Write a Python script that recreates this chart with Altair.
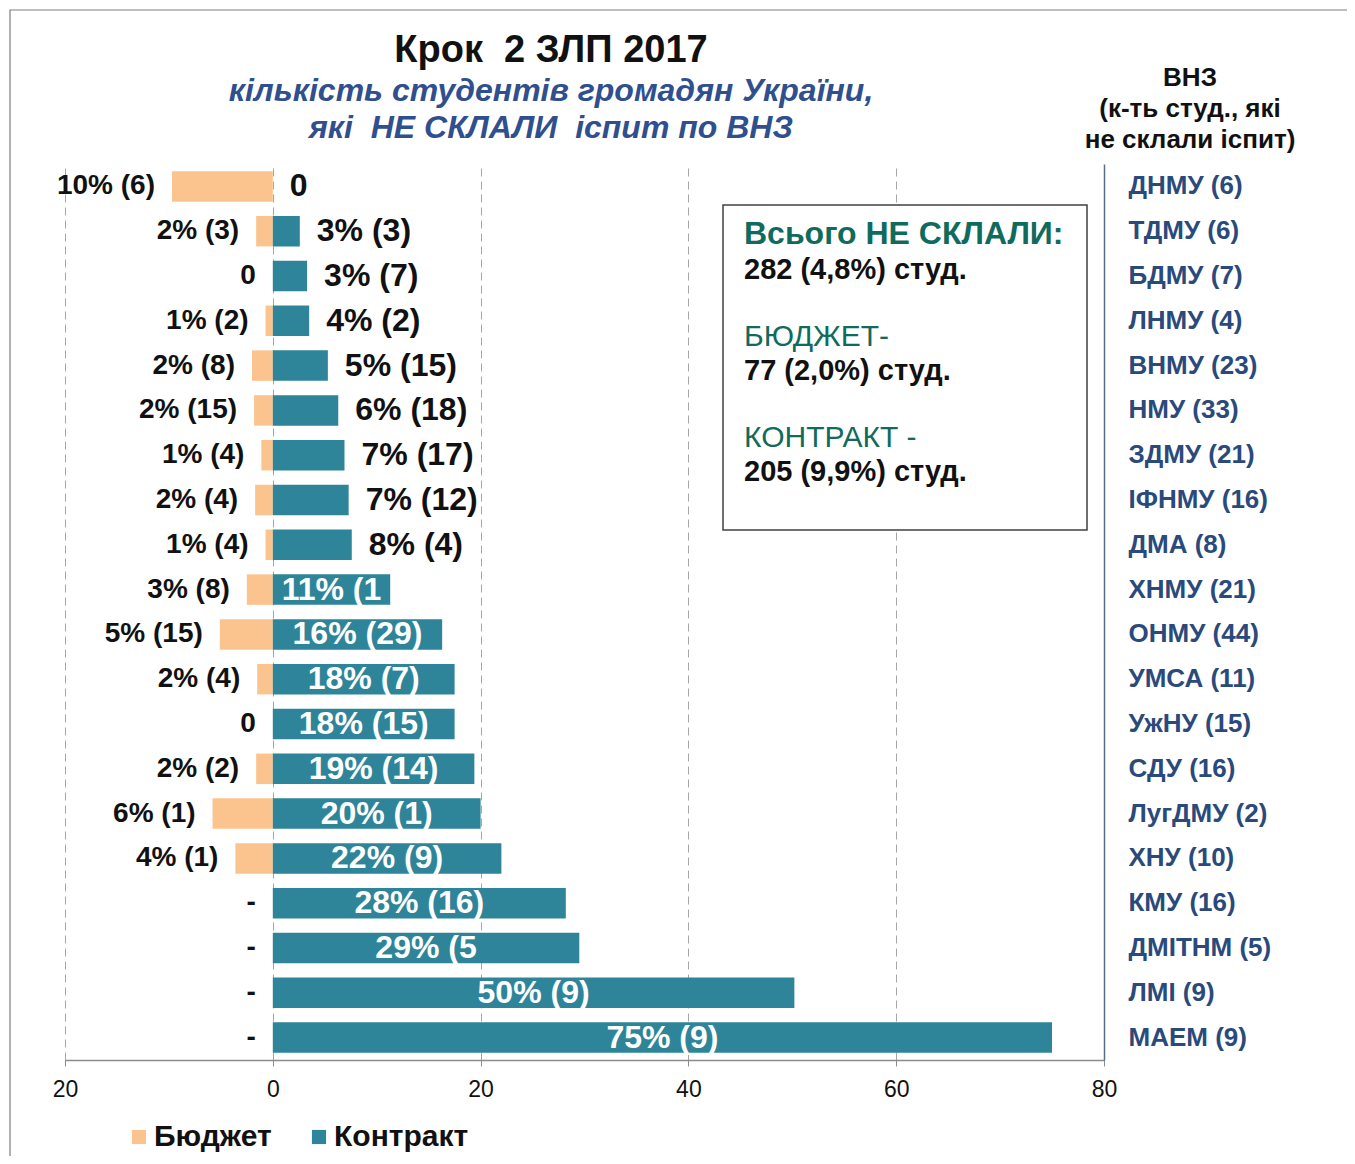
import altair as alt
import pandas as pd

names = ['ДНМУ (6)', 'ТДМУ (6)', 'БДМУ (7)', 'ЛНМУ (4)', 'ВНМУ (23)', 'НМУ (33)',
         'ЗДМУ (21)', 'ІФНМУ (16)', 'ДМА (8)', 'ХНМУ (21)', 'ОНМУ (44)', 'УМСА (11)',
         'УжНУ (15)', 'СДУ (16)', 'ЛугДМУ (2)', 'ХНУ (10)', 'КМУ (16)', 'ДМІТНМ (5)',
         'ЛМІ (9)', 'МАЕМ (9)']
budget_pct = [9.7, 1.6, 0, 0.7, 2.0, 1.8, 1.1, 1.7, 0.7, 2.5, 5.1, 1.5, 0, 1.6, 5.8, 3.6, 0, 0, 0, 0]
budget_labels = ['10% (6)', '2% (3)', '0', '1% (2)', '2% (8)', '2% (15)', '1% (4)', '2% (4)',
                 '1% (4)', '3% (8)', '5% (15)', '2% (4)', '0', '2% (2)', '6% (1)', '4% (1)',
                 '-', '-', '-', '-']
contract_pct = [0, 2.6, 3.3, 3.5, 5.3, 6.3, 6.9, 7.3, 7.6, 11.3, 16.3, 17.5, 17.5, 19.4,
                20.0, 22.0, 28.2, 29.5, 50.2, 75.0]
contract_labels = ['0', '3% (3)', '3% (7)', '4% (2)', '5% (15)', '6% (18)', '7% (17)', '7% (12)',
                   '8% (4)', '11% (1', '16% (29)', '18% (7)', '18% (15)', '19% (14)', '20% (1)',
                   '22% (9)', '28% (16)', '29% (5', '50% (9)', '75% (9)']
groups = ['Бюджет', 'Контракт']
x_ticks = [-20, 0, 20, 40, 60, 80]

title_text = 'Крок\u00a0\u00a02 ЗЛП 2017'
subtitle_lines = ['кількість студентів громадян України,',
                  'які\u00a0\u00a0НЕ СКЛАЛИ\u00a0\u00a0іспит по ВНЗ']
header_lines = ['ВНЗ', '(к-ть студ., які', 'не склали іспит)']
box_heads = ['Всього НЕ СКЛАЛИ:', 'БЮДЖЕТ-', 'КОНТРАКТ -']
box_values = ['282 (4,8%) студ.', '77 (2,0%) студ.', '205 (9,9%) студ.']

rows = []
for n, v, l in zip(names, budget_pct, budget_labels):
    rows.append({'name': n, 'group': groups[0], 'value': -v, 'label': l})
for n, v, l in zip(names, contract_pct, contract_labels):
    rows.append({'name': n, 'group': groups[1], 'value': v, 'label': l})
df = pd.DataFrame(rows)

FONT = 'Liberation Sans'
W, H = 1039, 896
ORANGE = '#fbc48e'
TEAL = '#2e8599'
GREEN = '#0f6b5c'
BLUE = '#2a4a7b'

xscale = alt.Scale(domain=[-20, 80], nice=False, zero=False)
yscale = alt.Scale(domain=names, paddingInner=0.32, paddingOuter=0.16)

base = alt.Chart(df)

bars = base.mark_bar().encode(
    x=alt.X('value:Q', scale=xscale, title=None,
            axis=alt.Axis(values=x_ticks, labelExpr="abs(datum.value) + ''", title=None,
                          grid=True, gridDash=[8, 5], gridColor='#a6a6a6',
                          domainColor='#8c8c8c', domainWidth=1.5, tickColor='#8c8c8c',
                          tickSize=6, labelFontSize=23, labelFont=FONT, labelColor='#111',
                          labelPadding=12, labelFlush=False)),
    y=alt.Y('name:N', scale=yscale, title=None,
            axis=alt.Axis(orient='right', title=None, ticks=False, labelFontSize=26,
                          labelFontWeight='bold', labelColor=BLUE, labelPadding=24,
                          domainColor='#5b6b8a', domainWidth=1.5, labelFont=FONT,
                          grid=False)),
    color=alt.Color('group:N', scale=alt.Scale(domain=groups, range=[ORANGE, TEAL]),
                    legend=alt.Legend(orient='none', legendX=59, legendY=958,
                                      direction='horizontal', title=None,
                                      symbolType='square', symbolSize=200,
                                      symbolStrokeWidth=0, labelFontSize=30,
                                      labelFontWeight='bold', labelFont=FONT,
                                      labelColor='#111', columnPadding=32,
                                      labelOffset=0, padding=0)),
)

blab = base.transform_filter("datum.group == 'Бюджет'").mark_text(
    align='right', baseline='middle', dx=-17, fontSize=28, fontWeight='bold',
    font=FONT, color='#111'
).encode(x=alt.X('value:Q', scale=xscale, title=None),
         y=alt.Y('name:N', scale=yscale, title=None), text='label:N')

clab_out = base.transform_filter("datum.group == 'Контракт' && datum.value < 10").mark_text(
    align='left', baseline='middle', dx=17, fontSize=32, fontWeight='bold',
    font=FONT, color='#111'
).encode(x=alt.X('value:Q', scale=xscale, title=None),
         y=alt.Y('name:N', scale=yscale, title=None), text='label:N')

clab_in = base.transform_filter("datum.group == 'Контракт' && datum.value >= 10").transform_calculate(
    mid='datum.value / 2'
).mark_text(
    align='center', baseline='middle', fontSize=32, fontWeight='bold',
    font=FONT, color='white'
).encode(x=alt.X('mid:Q', scale=xscale, title=None),
         y=alt.Y('name:N', scale=yscale, title=None), text='label:N')


def txt(t, x, y, size, color='#111', weight='bold', style='normal', align='center', font=FONT):
    return alt.Chart(pd.DataFrame({'t': [t]})).mark_text(
        align=align, baseline='middle', fontSize=size, fontWeight=weight,
        fontStyle=style, color=color, font=font
    ).encode(text='t:N', x=alt.value(x), y=alt.value(y))


frame = alt.Chart(pd.DataFrame({'a': [0]})).mark_rect(
    fillOpacity=0, stroke='#7f7f7f', strokeWidth=1.2
).encode(x=alt.value(-55), x2=alt.value(1400), y=alt.value(-154), y2=alt.value(1100))

box = alt.Chart(pd.DataFrame({'a': [0]})).mark_rect(
    fill='white', stroke='#404040', strokeWidth=1.5
).encode(x=alt.value(658), x2=alt.value(1022), y=alt.value(41), y2=alt.value(366))

annots = [
    txt(title_text, 486, -113, 38),
    txt(subtitle_lines[0], 486, -73, 32, color='#2f4f8f', style='italic'),
    txt(subtitle_lines[1], 486, -36, 32, color='#2f4f8f', style='italic'),
    txt(header_lines[0], 1125, -86, 26),
    txt(header_lines[1], 1125, -55, 26),
    txt(header_lines[2], 1125, -24, 26),
    txt(box_heads[0], 679, 70, 32, color=GREEN, align='left'),
    txt(box_values[0], 679, 106, 29, align='left'),
    txt(box_heads[1], 679, 173, 30, color=GREEN, weight='normal', align='left'),
    txt(box_values[1], 679, 207, 29, align='left'),
    txt(box_heads[2], 679, 274, 30, color=GREEN, weight='normal', align='left'),
    txt(box_values[2], 679, 308, 29, align='left'),
]

chart = alt.layer(frame, bars, blab, clab_out, clab_in, box, *annots).properties(
    width=W, height=H,
    autosize=alt.AutoSizeParams(type='none'),
    padding={'left': 57, 'top': 156, 'right': 243, 'bottom': 96},
).configure_view(stroke=None)

chart.save('out.html', embed_options={'renderer': 'svg', 'actions': False})
